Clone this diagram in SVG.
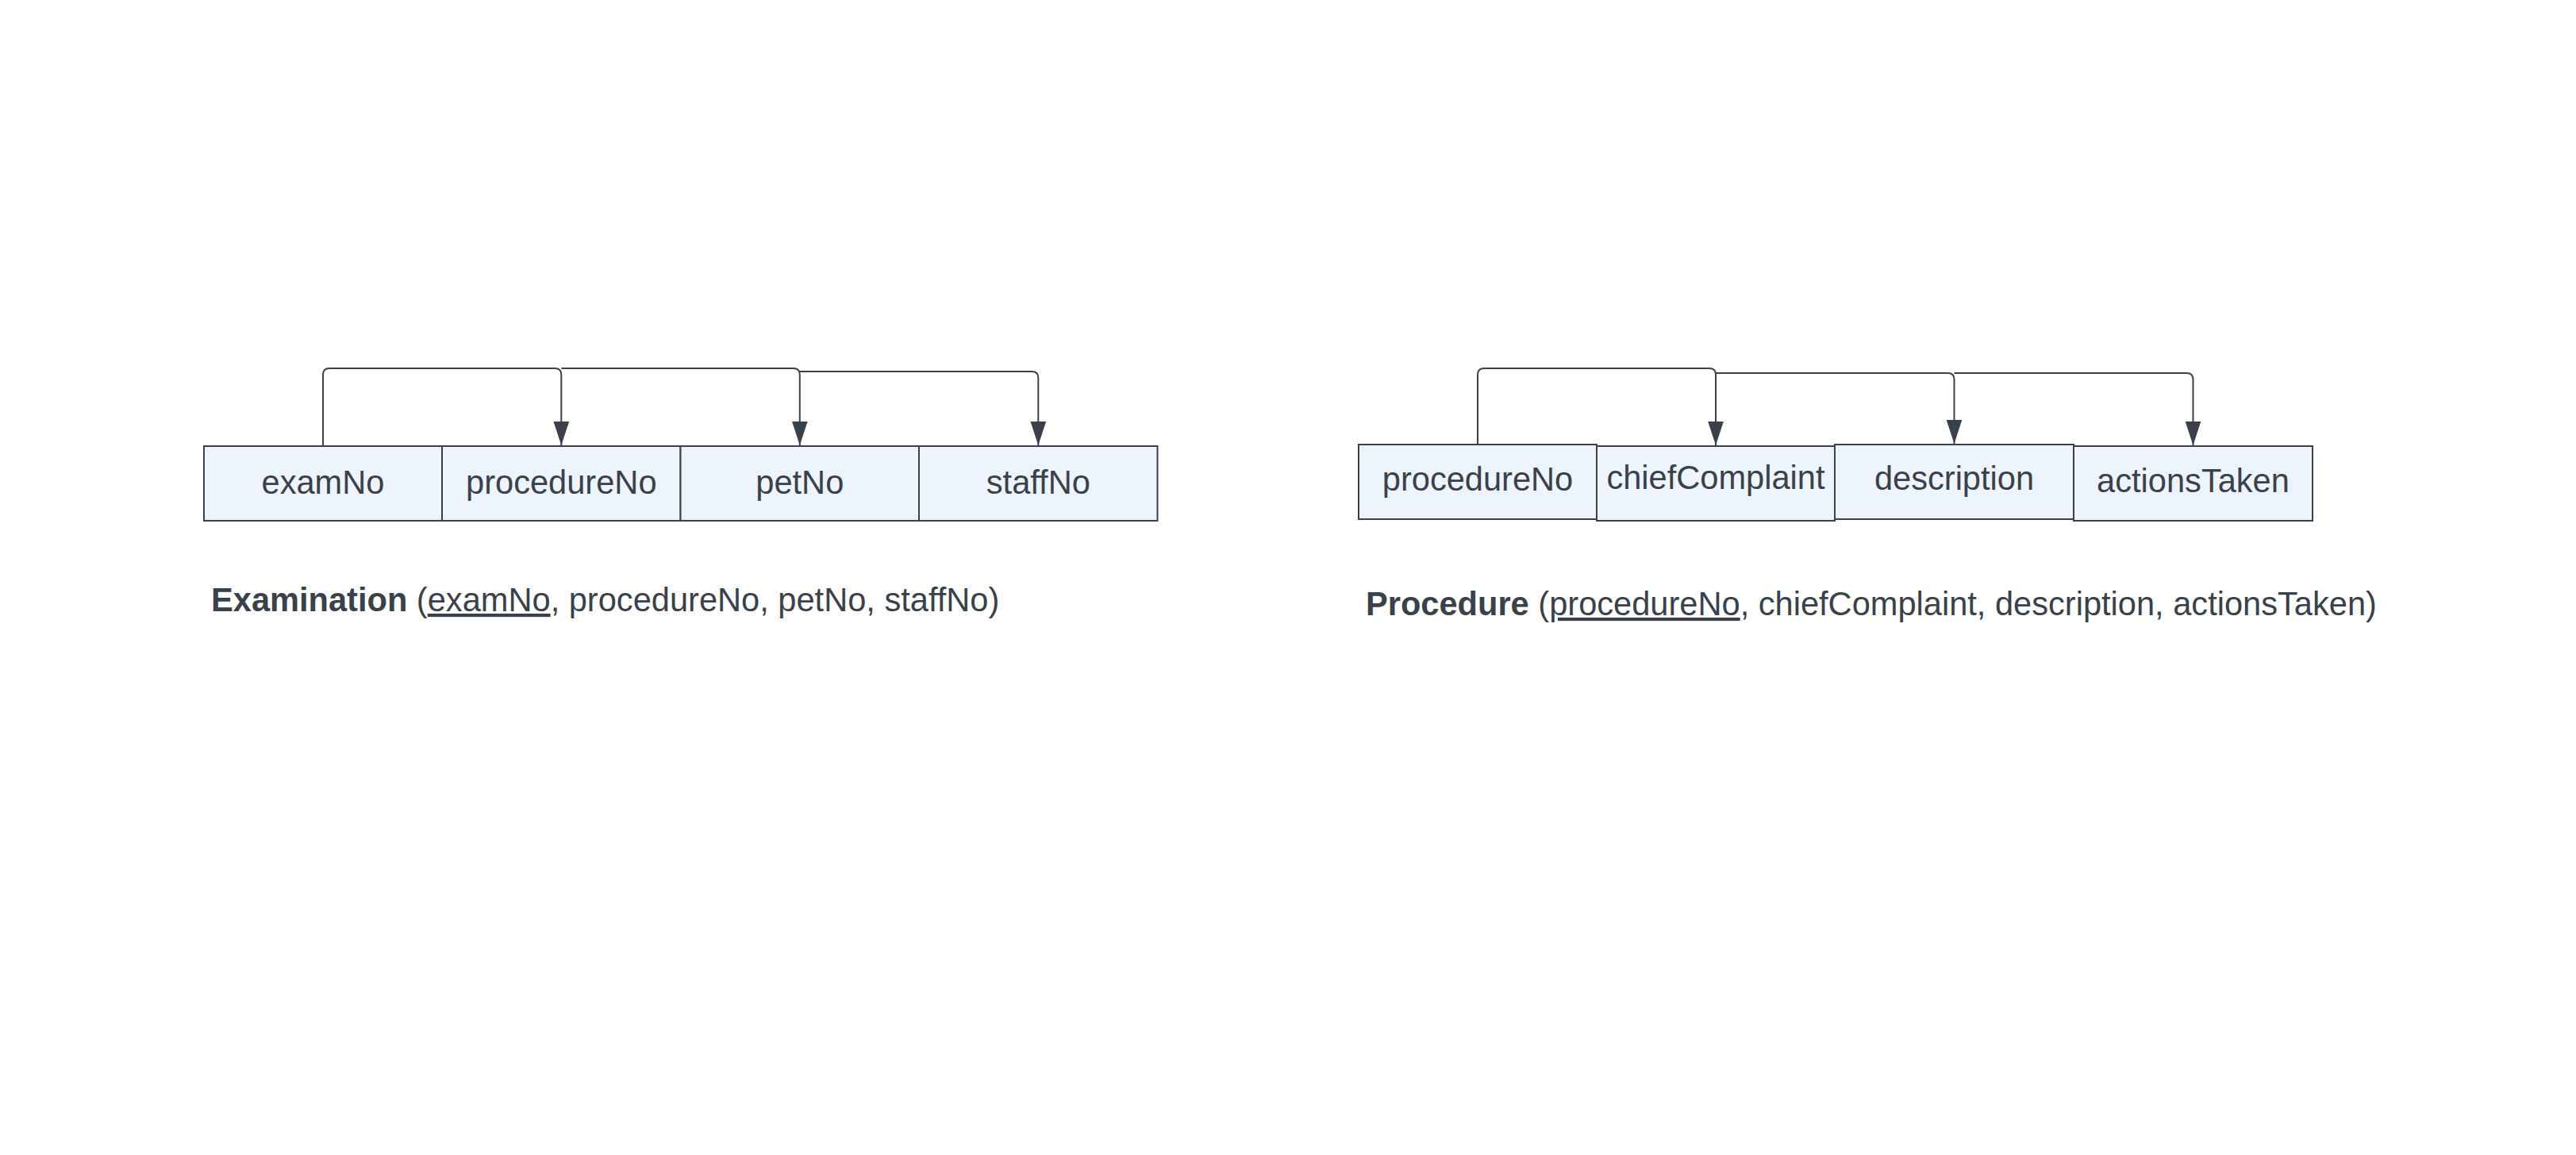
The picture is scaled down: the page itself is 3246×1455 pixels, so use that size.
<svg xmlns="http://www.w3.org/2000/svg" width="3246" height="1455" viewBox="0 0 3246 1455">
<style>
.box{fill:#edf4fe;stroke:#3a414a;stroke-width:2}
.lbl{font-family:"Liberation Sans",Arial,sans-serif;font-size:41.6px;fill:#3a414a;text-anchor:middle}
.title{font-family:"Liberation Sans",Arial,sans-serif;font-size:41.6px;fill:#3a414a}
.conn{fill:none;stroke:#3a414a;stroke-width:2}
</style>
<defs>
<marker id="arr" markerUnits="userSpaceOnUse" markerWidth="30" markerHeight="20" viewBox="0 0 29 19" refX="29" refY="9.5" orient="auto">
<path d="M0,0 L29,9.5 L0,19 z" fill="#3a414a"/>
</marker>
</defs>
<rect width="3246" height="1455" fill="#ffffff"/>
<g id="examination">
<g id="ex-examNo"><rect class="box" x="257" y="562" width="300" height="94"/><text class="lbl" x="407" y="622">examNo</text></g>
<g id="ex-procedureNo"><rect class="box" x="557" y="562" width="300.5" height="94"/><text class="lbl" x="707.3" y="622">procedureNo</text></g>
<g id="ex-petNo"><rect class="box" x="857.5" y="562" width="300.5" height="94"/><text class="lbl" x="1007.8" y="622">petNo</text></g>
<g id="ex-staffNo"><rect class="box" x="1158" y="562" width="300.5" height="94"/><text class="lbl" x="1308.3" y="622">staffNo</text></g>
</g>
<g id="procedure">
<g id="pr-procedureNo"><rect class="box" x="1712" y="560" width="300" height="94"/><text class="lbl" x="1862" y="618">procedureNo</text></g>
<g id="pr-chiefComplaint"><rect class="box" x="2012" y="562" width="300" height="94"/><text class="lbl" x="2162" y="616">chiefComplaint</text></g>
<g id="pr-description"><rect class="box" x="2312" y="560" width="301" height="94"/><text class="lbl" x="2462.5" y="617">description</text></g>
<g id="pr-actionsTaken"><rect class="box" x="2613" y="562" width="301" height="94"/><text class="lbl" x="2763.5" y="620">actionsTaken</text></g>
</g>
<g id="connectors">
<path class="conn" marker-end="url(#arr)" d="M407,562 V472 Q407,464 415,464 H699.3 Q707.3,464 707.3,472 V561"/>
<path class="conn" marker-end="url(#arr)" d="M707.3,464 H999.8 Q1007.8,464 1007.8,472 V561"/>
<path class="conn" marker-end="url(#arr)" d="M1007.8,468 H1300.3 Q1308.3,468 1308.3,476 V561"/>
<path class="conn" marker-end="url(#arr)" d="M1862,560 V472 Q1862,464 1870,464 H2154 Q2162,464 2162,472 V561"/>
<path class="conn" marker-end="url(#arr)" d="M2162,470 H2454.5 Q2462.5,470 2462.5,478 V559"/>
<path class="conn" marker-end="url(#arr)" d="M2462.5,470 H2755.5 Q2763.5,470 2763.5,478 V561"/>
</g>
<g id="titles">
<text class="title" x="266" y="770"><tspan font-weight="bold">Examination</tspan> (<tspan text-decoration="underline">examNo</tspan>, procedureNo, petNo, staffNo)</text>
<text class="title" x="1721" y="775"><tspan font-weight="bold">Procedure</tspan> (<tspan text-decoration="underline">procedureNo</tspan>, chiefComplaint, description, actionsTaken)</text>
</g>
</svg>
